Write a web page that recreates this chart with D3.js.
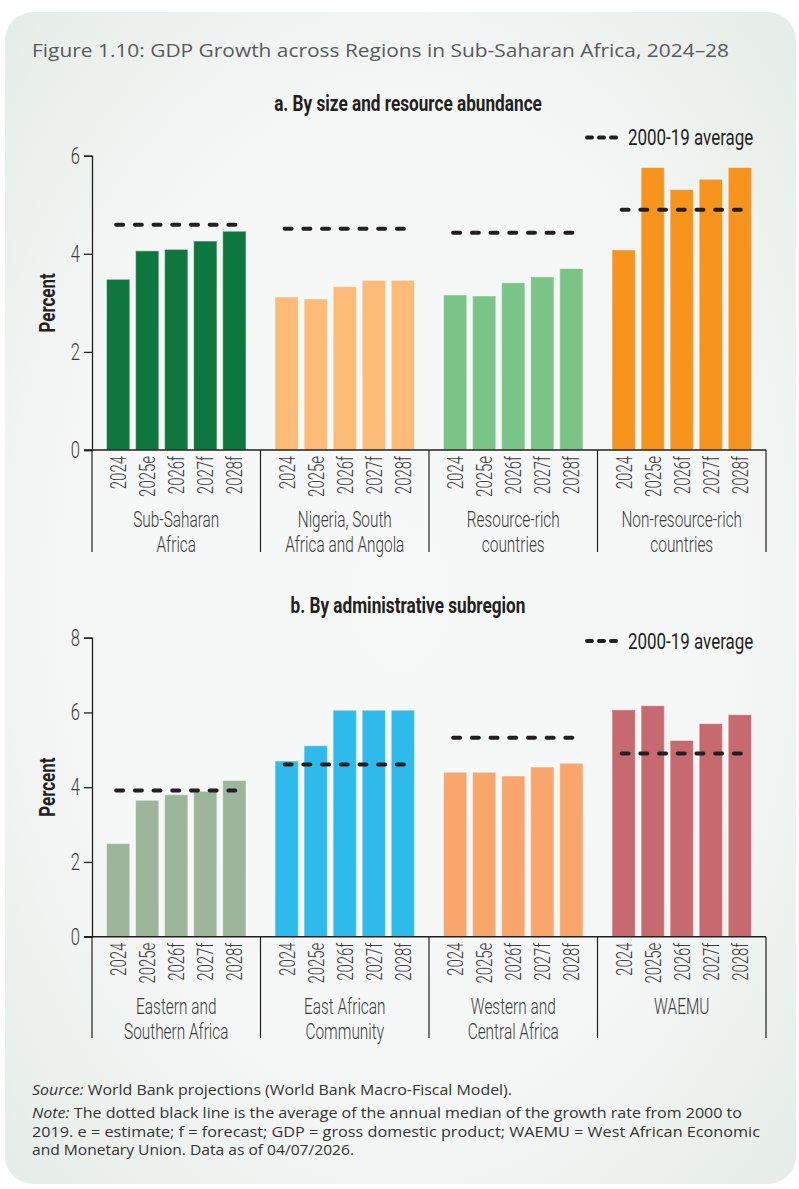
<!DOCTYPE html>
<html>
<head>
<meta charset="utf-8">
<script src="https://cdn.jsdelivr.net/npm/d3@7"></script>
<style>
	body { margin: 0; background: #ffffff; }
	svg { display: block; }
	.cond { font-family: Roboto, "Liberation Sans", sans-serif; }
</style>
</head>
<body>
<svg id="chart" width="799" height="1189"></svg>
<script>
/* GDP growth across regions in Sub-Saharan Africa, two grouped bar panels */

// x categories (same in both panels)
var years = ["2024", "2025e", "2026f", "2027f", "2028f"];

// panel a: by size and resource abundance
var groupsA = [["Sub-Saharan", "Africa"], ["Nigeria, South", "Africa and Angola"], ["Resource-rich", "countries"], ["Non-resource-rich", "countries"]];
var valuesA = [
	[3.48, 4.06, 4.09, 4.26, 4.46],
	[3.12, 3.08, 3.33, 3.46, 3.46],
	[3.16, 3.14, 3.41, 3.53, 3.70],
	[4.08, 5.76, 5.31, 5.52, 5.76]
];
var averagesA = [4.59, 4.51, 4.43, 4.90];
var colorsA = ["#0e773f", "#fdbb78", "#7bc487", "#f7941e"];
var ticksA = [0, 2, 4, 6];

// panel b: by administrative subregion
var groupsB = [["Eastern and", "Southern Africa"], ["East African", "Community"], ["Western and", "Central Africa"], ["WAEMU"]];
var valuesB = [
	[2.49, 3.65, 3.80, 3.89, 4.18],
	[4.70, 5.11, 6.06, 6.06, 6.06],
	[4.40, 4.40, 4.30, 4.54, 4.64],
	[6.07, 6.18, 5.25, 5.70, 5.94]
];
var averagesB = [3.91, 4.61, 5.32, 4.90];
var colorsB = ["#9db59a", "#2ebbec", "#f9a66c", "#c76a70"];
var ticksB = [0, 2, 4, 6, 8];

var legendLabel = "2000-19 average";

var svg = d3.select("#chart");

// card background
var defs = svg.append("defs");
var grad = defs.append("radialGradient")
	.attr("id", "cardbg")
	.attr("cx", "50%").attr("cy", "50%").attr("r", "75%");
grad.append("stop").attr("offset", "0%").attr("stop-color", "#f7f8f8");
grad.append("stop").attr("offset", "55%").attr("stop-color", "#f5f7f6");
grad.append("stop").attr("offset", "100%").attr("stop-color", "#e3ebe6");

svg.append("rect")
	.attr("x", 5).attr("y", 12)
	.attr("width", 791).attr("height", 1172)
	.attr("rx", 28).attr("ry", 28)
	.attr("fill", "url(#cardbg)");

svg.append("text")
	.attr("x", 32).attr("y", 57)
	.attr("font-family", "'Open Sans', Lato, sans-serif")
	.attr("font-size", 18.5)
	.attr("fill", "#58595b")
	.attr("textLength", 697)
	.attr("lengthAdjust", "spacingAndGlyphs")
	.text("Figure 1.10: GDP Growth across Regions in Sub-Saharan Africa, 2024\u201328");

var plotLeft = 92, plotRight = 766;

// squeezes text horizontally to stand in for a condensed face
function squeeze(x, y, k, rot) {
	return "translate(" + x + "," + y + ")" + (rot ? " rotate(" + rot + ")" : "") + " scale(" + k + ",1)";
}

drawPanel({
	title: "a. By size and resource abundance", titleY: 111,
	groups: groupsA, values: valuesA, averages: averagesA, colors: colorsA,
	ticks: ticksA, top: 155.7, bottom: 450, legendY: 137.5, labelBottom: 552
});
drawPanel({
	title: "b. By administrative subregion", titleY: 613,
	groups: groupsB, values: valuesB, averages: averagesB, colors: colorsB,
	ticks: ticksB, top: 637.7, bottom: 936.7, legendY: 641, labelBottom: 1038
});

function drawPanel(cfg) {
	var g = svg.append("g").attr("class", "cond");

	var x0 = d3.scaleBand()
		.domain(d3.range(cfg.groups.length))
		.range([plotLeft, plotRight])
		.padding(0);
	var x1 = d3.scaleBand()
		.domain(years)
		.range([0, x0.bandwidth()])
		.paddingInner(0.2)
		.paddingOuter(0.5);
	var y = d3.scaleLinear()
		.domain([0, d3.max(cfg.ticks)])
		.range([cfg.bottom, cfg.top]);

	// panel title
	g.append("text")
		.attr("transform", squeeze((plotLeft + plotRight) / 2 - 21, cfg.titleY, 0.8))
		.attr("text-anchor", "middle")
		.attr("font-size", 21.5)
		.attr("font-weight", "bold")
		.attr("fill", "#231f20")
		.text(cfg.title);

	// y axis
	var yAxis = d3.axisLeft(y)
		.tickValues(cfg.ticks)
		.tickSize(8)
		.tickPadding(3)
		.tickFormat(d3.format("d"));
	var ya = g.append("g")
		.attr("transform", "translate(" + plotLeft + ",0)")
		.call(yAxis);
	ya.attr("font-family", null).attr("font-size", null);
	ya.select(".domain").attr("stroke", "#231f20").attr("stroke-width", 1.3);
	ya.selectAll(".tick line").attr("stroke", "#231f20").attr("stroke-width", 1.3);
	ya.selectAll(".tick text")
		.attr("x", 0)
		.attr("transform", squeeze(-12, 0, 0.72))
		.attr("font-size", 23)
		.attr("font-weight", 300)
		.attr("fill", "#3a3a3a");

	g.append("text")
		.attr("transform", squeeze(47, (cfg.top + cfg.bottom) / 2, 0.77, -90))
		.attr("text-anchor", "middle")
		.attr("dy", "0.35em")
		.attr("font-size", 22)
		.attr("font-weight", "bold")
		.attr("fill", "#231f20")
		.text("Percent");

	// bars
	var groupSel = g.selectAll(".grp")
		.data(cfg.values)
	  .enter()
		.append("g")
		.attr("class", "grp")
		.attr("transform", function(d, i) { return "translate(" + x0(i) + ",0)"; });

	groupSel.selectAll("rect")
		.data(function(d, i) { return d.map(function(v, j) { return { year: years[j], value: v, gi: i }; }); })
	  .enter()
		.append("rect")
		.attr("x", function(d) { return x1(d.year); })
		.attr("width", x1.bandwidth())
		.attr("y", function(d) { return y(d.value); })
		.attr("height", function(d) { return y(0) - y(d.value); })
		.attr("fill", function(d) { return cfg.colors[d.gi]; })
		.attr("stroke", "rgba(255,255,255,0.45)")
		.attr("stroke-width", 1);

	// 2000-19 average lines
	groupSel.append("line")
		.attr("x1", x1(years[0]) + x1.bandwidth() / 2 - 2)
		.attr("x2", x1(years[years.length - 1]) + x1.bandwidth() / 2 + 1)
		.attr("y1", function(d, i) { return y(cfg.averages[i]); })
		.attr("y2", function(d, i) { return y(cfg.averages[i]); })
		.attr("stroke", "#231f20")
		.attr("stroke-width", 4)
		.attr("stroke-linecap", "round")
		.attr("stroke-dasharray", "7 11.7");

	// x axis line and group separators
	g.append("line")
		.attr("x1", plotLeft - 8).attr("x2", plotRight)
		.attr("y1", y(0)).attr("y2", y(0))
		.attr("stroke", "#231f20").attr("stroke-width", 1.6);
	g.selectAll(".sep")
		.data(d3.range(cfg.groups.length + 1))
	  .enter()
		.append("line")
		.attr("class", "sep")
		.attr("x1", function(i) { return plotLeft + i * x0.bandwidth(); })
		.attr("x2", function(i) { return plotLeft + i * x0.bandwidth(); })
		.attr("y1", y(0)).attr("y2", cfg.labelBottom)
		.attr("stroke", "#231f20").attr("stroke-width", 1.2);

	// year labels, rotated
	groupSel.selectAll(".yr")
		.data(years)
	  .enter()
		.append("text")
		.attr("class", "yr")
		.attr("transform", function(d) {
			return squeeze(x1(d) + x1.bandwidth() / 2, y(0) + 6, 0.68, -90);
		})
		.attr("text-anchor", "end")
		.attr("dy", "0.36em")
		.attr("font-size", 22)
		.attr("font-weight", 300)
		.attr("fill", "#3a3a3a")
		.text(function(d) { return d; });

	// group labels
	groupSel.append("text")
		.attr("transform", squeeze(x0.bandwidth() / 2, y(0) + 77, 0.70))
		.attr("text-anchor", "middle")
		.attr("font-size", 22)
		.attr("font-weight", 300)
		.attr("fill", "#3a3a3a")
		.selectAll("tspan")
		.data(function(d, i) { return cfg.groups[i]; })
	  .enter()
		.append("tspan")
		.attr("x", 0)
		.attr("dy", function(d, i) { return i === 0 ? 0 : 25; })
		.text(function(d) { return d; });

	// legend
	g.append("line")
		.attr("x1", 587).attr("x2", 616)
		.attr("y1", cfg.legendY).attr("y2", cfg.legendY)
		.attr("stroke", "#231f20")
		.attr("stroke-width", 4)
		.attr("stroke-linecap", "round")
		.attr("stroke-dasharray", "5 7");
	g.append("text")
		.attr("transform", squeeze(628, cfg.legendY, 0.77))
		.attr("dy", "0.35em")
		.attr("font-size", 22)
		.attr("fill", "#231f20")
		.text(legendLabel);
}

// footnotes
var notes = svg.append("g")
	.attr("font-family", "'Open Sans', Lato, sans-serif")
	.attr("font-size", 14.5)
	.attr("fill", "#333");

var src = notes.append("text").attr("x", 32).attr("y", 1095)
	.attr("textLength", 480).attr("lengthAdjust", "spacingAndGlyphs");
src.append("tspan").attr("font-style", "italic").text("Source:");
src.append("tspan").text(" World Bank projections (World Bank Macro-Fiscal Model).");

var noteLines = [
	"The dotted black line is the average of the annual median of the growth rate from 2000 to",
	"2019. e = estimate; f = forecast; GDP = gross domestic product; WAEMU = West African Economic",
	"and Monetary Union. Data as of 04/07/2026."
];
var noteWidths = [710, 728, 322];
noteLines.forEach(function(line, i) {
	var t = notes.append("text")
		.attr("x", 32).attr("y", 1118 + i * 18.5)
		.attr("textLength", noteWidths[i])
		.attr("lengthAdjust", "spacingAndGlyphs");
	if (i === 0) {
		t.append("tspan").attr("font-style", "italic").text("Note:");
		t.append("tspan").text(" " + line);
	} else {
		t.text(line);
	}
});
</script>
</body>
</html>
